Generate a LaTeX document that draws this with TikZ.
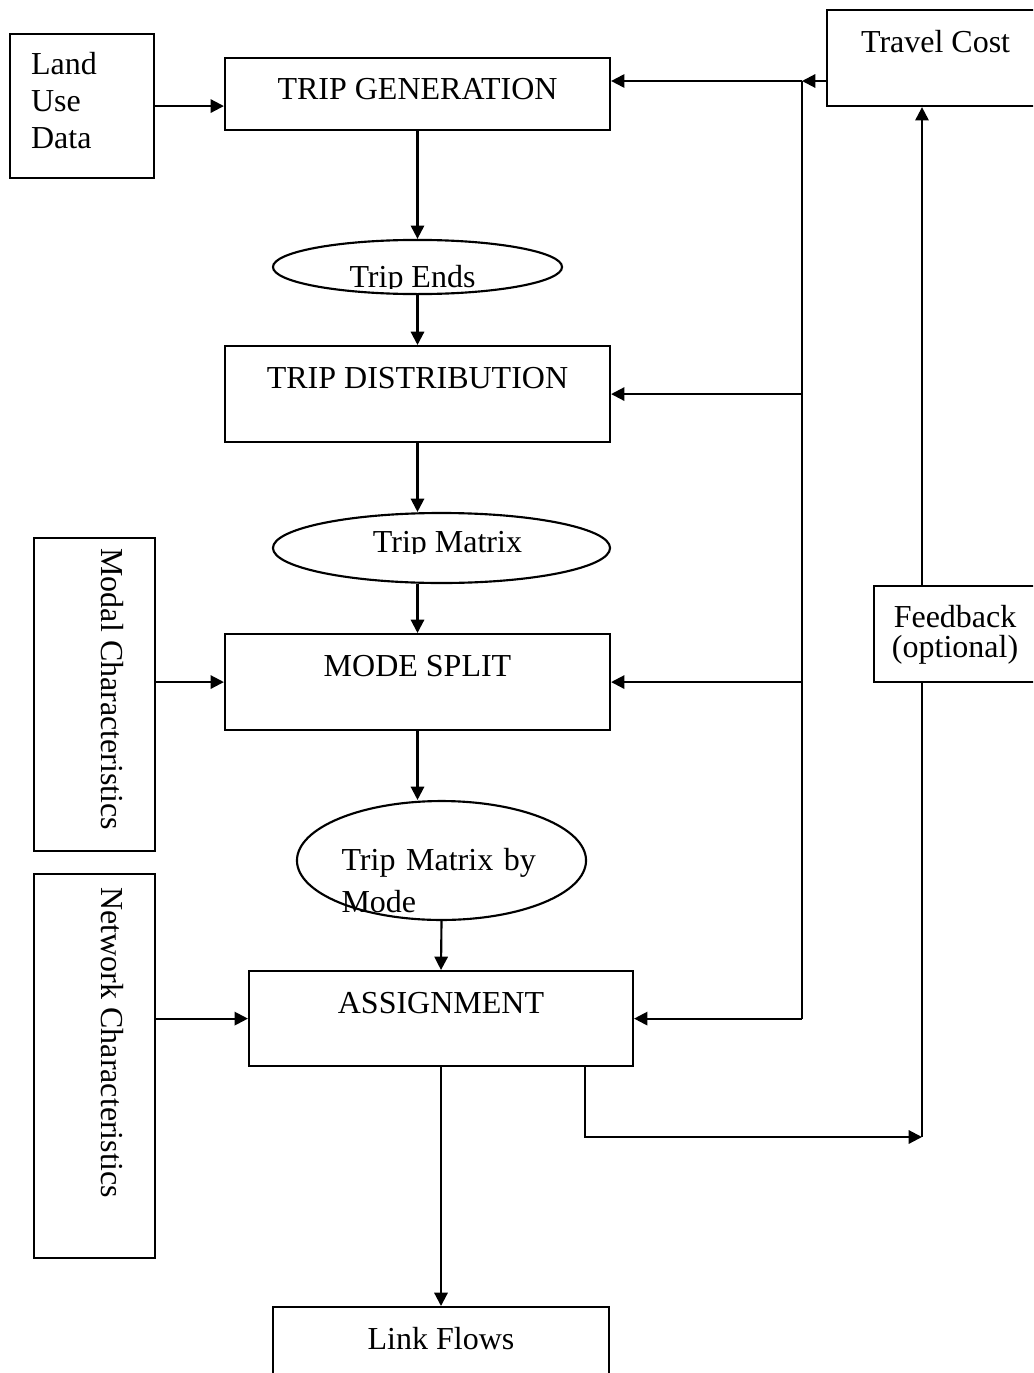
\documentclass[tikz,border=0pt]{standalone}
\usepackage{fontspec}
\setmainfont{Liberation Serif}
\usepackage{tikz}
\usetikzlibrary{positioning,arrows.meta,calc,shapes.geometric}
\tikzset{
  stagebox/.style={draw, line width=0.8pt, inner xsep=0pt, inner ysep=0pt, anchor=north,
    font=\fontsize{12}{14}\selectfont},
  bubble/.style={draw, ellipse, line width=0.8pt, inner sep=0pt},
  sidetext/.style={rotate=-90, anchor=base west, inner sep=0pt, font=\fontsize{12}{14}\selectfont},
  flowarrow/.style={-{Triangle[length=5pt, width=5pt]}, line width=0.8pt},
  flowline/.style={line width=0.8pt},
}
\begin{document}
\begin{tikzpicture}[x=0.375pt, y=-0.375pt,
    lbl/.style={inner sep=0pt, anchor=base, font=\fontsize{12}{14}\selectfont},
    sidebox/.style={draw, line width=0.8pt, anchor=north west, minimum width=45.4pt}]
  \useasboundingbox (0,0) rectangle (1033,1373);
  \clip (0,0) rectangle (1033,1373);
  % inputs on the left
  \node[stagebox, anchor=north west, text width=38.1pt, inner xsep=7.9pt, align=left,
    text height=15pt, text depth=39pt] (land) at (9,33) {Land\\Use\\Data};
  \node[sidebox, minimum height=117.4pt] (modal) at (33,537) {};
  \node[sidetext] (modallbl) at (101,548) {Modal Characteristics};
  \node[sidebox, minimum height=144pt] (net) at (33,873) {};
  \node[sidetext] (netlbl) at (101,887) {Network Characteristics};
  % the four steps
  \node[stagebox, minimum width=144.4pt, text height=15.6pt, text depth=11.4pt] (gen) at (417.5,57) {TRIP GENERATION};
  \node[bubble, minimum width=108.4pt, minimum height=20.3pt] (ends) at (417.5,267) {};
  \node[stagebox, minimum width=144.4pt, text height=15.75pt, text depth=20.25pt] (dist) at (417.5,345) {TRIP DISTRIBUTION};
  \node[bubble, minimum width=126.4pt, minimum height=26.25pt] (tmat) at (441.5,548) {};
  \node[stagebox, minimum width=144.4pt, text height=15.75pt, text depth=20.25pt] (mode) at (417.5,633) {MODE SPLIT};
  \node[bubble, minimum width=108.4pt, minimum height=44.6pt] (tmode) at (441.5,860.5) {};
  \node[lbl, anchor=base west, text width=76pt, align=left, font=\fontsize{12}{16.1}\selectfont]
    (tmodelbl) at (341,870) {\makebox[75pt][s]{Trip Matrix by}\\Mode};
  \node[stagebox, minimum width=144pt, text height=15.75pt, text depth=19.9pt] (assign) at (441,970) {ASSIGNMENT};
  \node[stagebox, minimum width=126pt, text height=15.75pt, text depth=22.5pt] (link) at (441,1306) {Link Flows};
  % labels cut off at the bottom of their text box
  \coordinate (endscut) at (0,288.5);
  \coordinate (tmatcut) at (0,553);
  \begin{scope}
    \clip (ends.west |- ends.north) rectangle (ends.east |- endscut);
    \node[lbl] (endslbl) at (412.5,287.5) {Trip Ends};
  \end{scope}
  \begin{scope}
    \clip (tmat.west |- tmat.north) rectangle (tmat.east |- tmatcut);
    \node[lbl] (tmatlbl) at (447.5,552) {Trip Matrix};
  \end{scope}
  % travel cost and feedback
  \node[stagebox, anchor=north west, minimum width=81.4pt, text height=16.1pt, text depth=19.9pt] (cost) at (826,9) {Travel Cost};
  \node[stagebox, anchor=north west, text width=60.75pt, align=center, text height=15.4pt, text depth=20.6pt,
    font=\fontsize{12}{11.5}\selectfont] (fb) at (873,585) {Feedback\\(optional)};
  \coordinate (bustop) at (802,81);
  \coordinate (busbot) at (bustop |- assign.east);
  \coordinate (fbjoin) at (922,1137);
  \coordinate (fbout) at (585,1137);
  % main chain
  \draw[flowarrow] (land.east) -- (land.east -| gen.west);
  \draw[flowarrow] (gen.south) -- (ends.north);
  \draw[flowarrow] (ends.south) -- (dist.north);
  \draw[flowarrow] (dist.south) -- (dist.south |- tmat.north);
  \draw[flowarrow] (mode.north |- tmat.south) -- (mode.north);
  \draw[flowarrow] (mode.west -| modal.east) -- (mode.west);
  \draw[flowarrow] (mode.south) -- (mode.south |- tmode.north);
  \draw[flowarrow] (tmode.south) -- (assign.north);
  \draw[flowarrow] (assign.west -| net.east) -- (assign.west);
  \draw[flowarrow] (assign.south) -- (link.north);
  % costs back into every step
  \draw[flowarrow] (cost.west |- bustop) -- (bustop);
  \draw[flowarrow] (bustop) -- (bustop -| gen.east);
  \draw[flowline] (bustop) -- (busbot);
  \draw[flowarrow] (bustop |- dist.east) -- (dist.east);
  \draw[flowarrow] (bustop |- mode.east) -- (mode.east);
  \draw[flowarrow] (busbot) -- (assign.east);
  \draw[flowarrow] (assign.south -| fbout) -- (fbout) -- (fbjoin);
  \draw[flowline] (fbjoin) -- (fbjoin |- fb.south);
  \draw[flowarrow] (fbjoin |- fb.north) -- (fbjoin |- cost.south);
\end{tikzpicture}
\end{document}
